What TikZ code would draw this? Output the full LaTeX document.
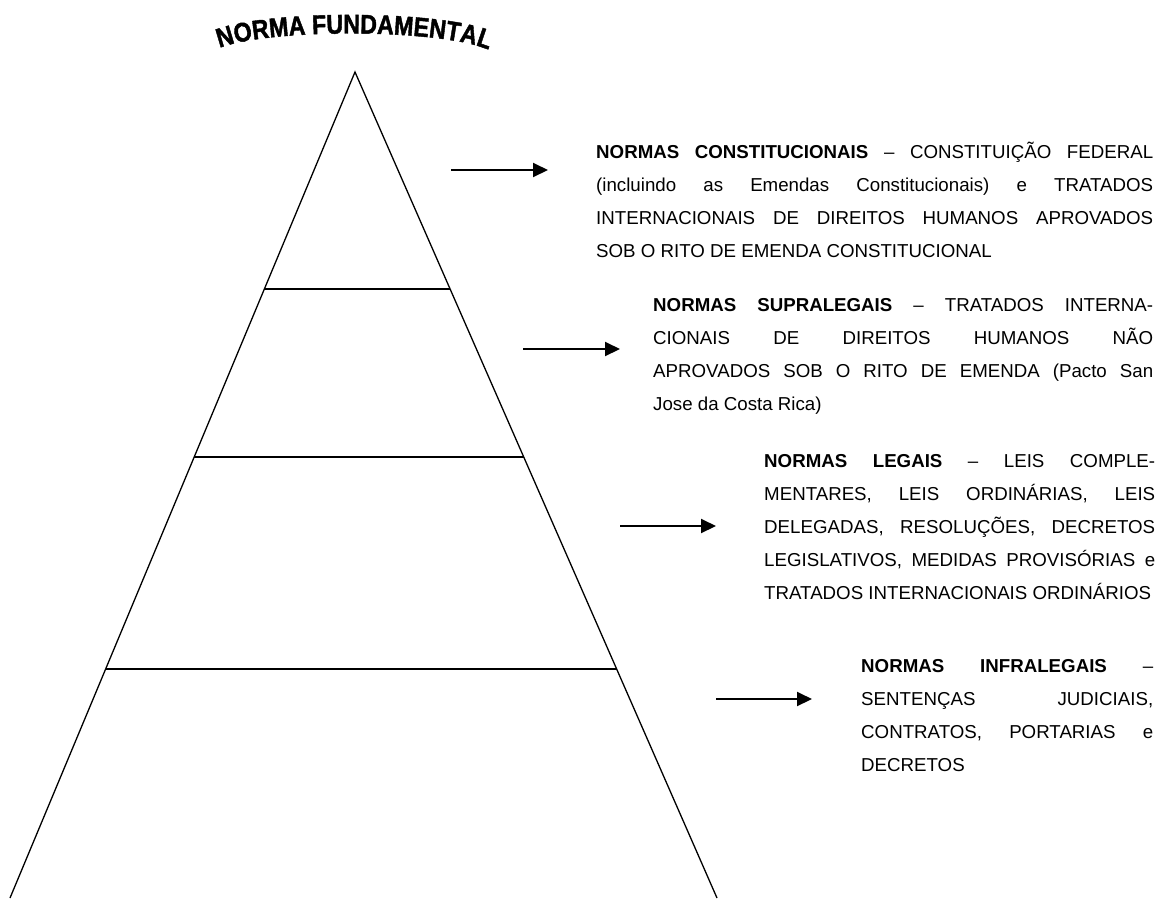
\documentclass[tikz,border=0pt]{standalone}
\usepackage{fontspec}
\setmainfont{Liberation Sans}
\newfontfamily\titlefont[FakeStretch=0.86,FakeBold=1.5]{Liberation Sans Bold}
\usetikzlibrary{arrows.meta,calc,decorations.text}
\tolerance=10000
\hbadness=10000

\begin{document}
\begin{tikzpicture}[x=1pt,y=-1pt]
	\tikzstyle{level}=[line width=1.3pt]
	\tikzstyle{pointer}=[line width=2pt, -{Triangle[length=15pt,width=14pt]}]
	\tikzstyle{info}=[anchor=base west, inner sep=0pt, align=justify, font=\fontsize{18.7}{33}\selectfont]
	\useasboundingbox (0,0) rectangle (1157,898);

	% Title
	\path[decorate, decoration={text along path, text align=center,
		text={|\titlefont\fontsize{27}{27}\selectfont|NORMA FUNDAMENTAL}}]
		(212,52) .. controls (248,27) and (460,27) .. (496,54);

	% Pyramid
	\coordinate (apex) at (355,72);
	\coordinate (left) at (10,898);
	\coordinate (right) at (717,898);
	\draw[level] (left) -- (apex) -- (right);
	\draw[level] ($(apex)!0.2627!(left)$) -- ($(apex)!0.2627!(right)$);
	\draw[level] ($(apex)!0.4661!(left)$) -- ($(apex)!0.4661!(right)$);
	\draw[level] ($(apex)!0.7228!(left)$) -- ($(apex)!0.7228!(right)$);

	% Levels
	\node at (596,158) [info, text width=557pt] (const) {\textbf{NORMAS CONSTITUCIONAIS} – CONSTITUIÇÃO FEDERAL\linebreak (incluindo as Emendas Constitucionais) e TRATADOS\linebreak INTERNACIONAIS DE DIREITOS HUMANOS APROVADOS\linebreak SOB O RITO DE EMENDA CONSTITUCIONAL};
	\node at (653,311) [info, text width=500pt] (supra) {\textbf{NORMAS SUPRALEGAIS} – TRATADOS INTERNA-\linebreak CIONAIS DE DIREITOS HUMANOS NÃO\linebreak APROVADOS SOB O RITO DE EMENDA (Pacto San\linebreak Jose da Costa Rica)};
	\node at (764,467) [info, text width=391pt] (legal) {\textbf{NORMAS LEGAIS} – LEIS COMPLE-\linebreak MENTARES, LEIS ORDINÁRIAS, LEIS\linebreak DELEGADAS, RESOLUÇÕES, DECRETOS\linebreak LEGISLATIVOS, MEDIDAS PROVISÓRIAS e\linebreak TRATADOS INTERNACIONAIS ORDINÁRIOS};
	\node at (861,672) [info, text width=292pt] (infra) {\textbf{NORMAS INFRALEGAIS} –\linebreak SENTENÇAS JUDICIAIS,\linebreak CONTRATOS, PORTARIAS e\linebreak DECRETOS};

	% Arrows
	\coordinate (c1) at (451,170);
	\coordinate (c2) at (548,170);
	\coordinate (s1) at (523,349);
	\coordinate (s2) at (620,349);
	\coordinate (l1) at (620,526);
	\coordinate (l2) at (716,526);
	\coordinate (i1) at (716,699);
	\coordinate (i2) at (812,699);
	\draw[pointer] (c1) -- (c2);
	\draw[pointer] (s1) -- (s2);
	\draw[pointer] (l1) -- (l2);
	\draw[pointer] (i1) -- (i2);
\end{tikzpicture}
\end{document}
